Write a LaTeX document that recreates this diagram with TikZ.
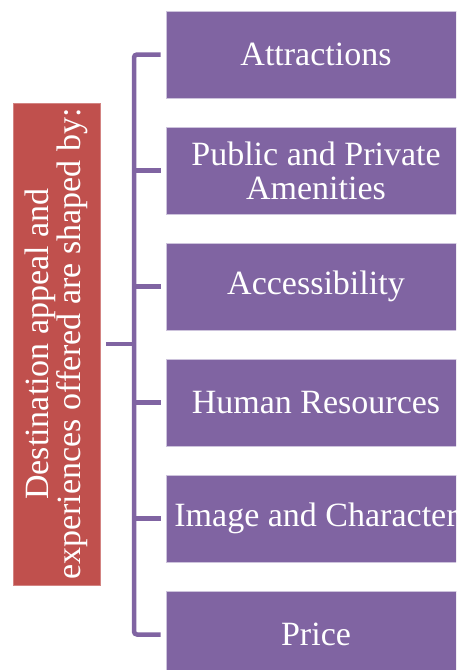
\documentclass[tikz,border=0pt]{standalone}
\usepackage{fontspec}
\setmainfont{Liberation Serif}
\definecolor{boxpurple}{HTML}{8064A2}
\definecolor{boxred}{HTML}{C0504D}
\definecolor{edgelav}{HTML}{CDC3DC}
\begin{document}
\begin{tikzpicture}[x=1pt,y=-1pt,
  item/.style={fill=boxpurple, draw=edgelav, line width=0.8pt, text=white,
    minimum width=300pt, minimum height=87pt, inner sep=0pt,
    align=center, font=\fontsize{34}{34}\selectfont},
  rootbox/.style={fill=boxred, draw=boxred!70!white, line width=0.6pt, text=white,
    minimum width=482pt, minimum height=87pt, inner sep=0pt, rotate=90,
    align=center, font=\fontsize{34}{32}\selectfont},
  conn/.style={draw=boxpurple, line width=4.5pt, rounded corners=3pt}]
\clip (0,0) rectangle (456,670);
\useasboundingbox (0,0) rectangle (456,670);
\node[rootbox] (root) at (56.5,344) {Destination appeal and\\experiences offered are shaped by:};
\node[item] (b1) at (316,54.5) {Attractions};
\node[item] (b2) at (316,170.5) {Public and Private\\Amenities};
\node[item] (b3) at (316,286.5) {Accessibility};
\node[item] (b4) at (316,402.5) {Human Resources};
\node[item] (b5) at (316,518.5) {Image and Character};
\node[item] (b6) at (316,634.5) {Price};
\coordinate (sx) at (134,0);
\draw[conn] ([xshift=-5pt]b1.west) -| (sx |- b6.west) -- ([xshift=-5pt]b6.west);
\draw[conn] ([xshift=-5pt]b2.west) -- (sx |- b2.west);
\draw[conn] ([xshift=-5pt]b3.west) -- (sx |- b3.west);
\draw[conn] ([xshift=-5pt]b4.west) -- (sx |- b4.west);
\draw[conn] ([xshift=-5pt]b5.west) -- (sx |- b5.west);
\draw[conn] ([xshift=6pt]root.south) -- (sx |- root.south);
\end{tikzpicture}
\end{document}
